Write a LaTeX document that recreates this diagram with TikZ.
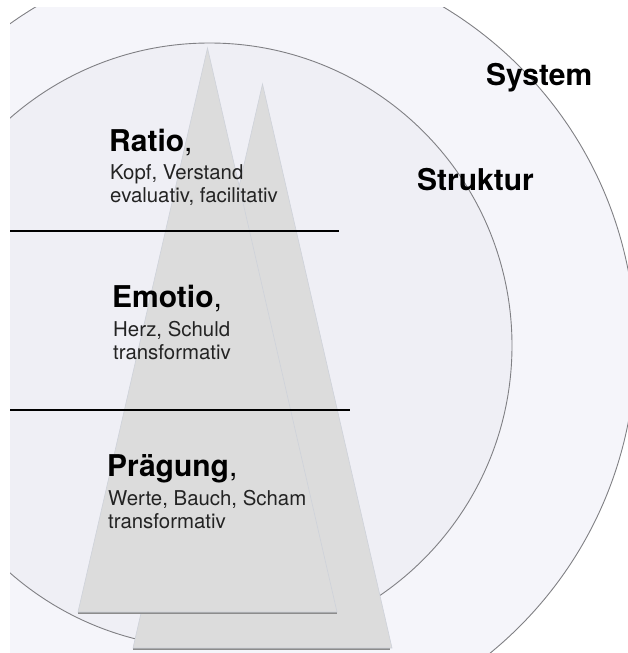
\documentclass[tikz,border=0pt]{standalone}
\usepackage{fontspec}
\setmainfont{TeX Gyre Heros}
\usepackage{tikz}
\usepackage{xcolor}
\usetikzlibrary{positioning}
\definecolor{ringout}{RGB}{245,245,250}
\definecolor{ringin}{RGB}{239,239,245}
\definecolor{ringline}{RGB}{128,128,132}
\definecolor{pyrfill}{RGB}{220,220,220}
\definecolor{pyredge}{RGB}{206,210,218}
\definecolor{subtext}{RGB}{35,35,35}
\tikzset{%
	ring/.style     = {draw=ringline, line width=0.9pt},
	pyramid/.style  = {fill=pyrfill, draw=pyredge, line width=0.6pt},
	pyrshadow/.style= {draw=black!45, line width=1.2pt},
	divider/.style  = {draw=black, line width=1.1pt},
	head/.style     = {anchor=base west, inner sep=0pt, font=\fontsize{30}{32}\selectfont},
	sub/.style      = {anchor=base west, inner sep=0pt, text=subtext, font=\fontsize{20.4}{23}\selectfont},
}

\begin{document}
\begin{tikzpicture}[x=1pt,y=-1pt]
	\useasboundingbox (0,0) rectangle (628,653);
	
	% circles, cut to the frame
	\begin{scope}
	\clip (10,7) rectangle (628,653);
	\fill[ringout] (239.5,346.5) circle (396);
	\draw[ring] (239.5,346.5) circle (396);
	\fill[ringin] (209.5,345.5) circle (302.5);
	\draw[ring] (209.5,345.5) circle (302.5);
	\end{scope}
	
	% two pyramids, back one first
	\draw[pyrshadow] (133,649) -- (390,649);
	\draw[pyramid] (262.5,84) -- (392,648) -- (133,648) -- cycle;
	\draw[pyrshadow] (78,613) -- (337,613);
	\draw[pyramid] (207.5,48) -- (337,612) -- (78,612) -- cycle;
	
	\coordinate (l1a) at (10,231);
	\coordinate (l1b) at (339,231);
	\coordinate (l2a) at (10,410);
	\coordinate (l2b) at (350,410);
	\draw[divider] (l1a) -- (l1b);
	\draw[divider] (l2a) -- (l2b);
	
	\node [head] (ratio) at (109,151) {\textbf{Ratio},};
	\node [sub] (ratio1) at (110,179) {Kopf, Verstand};
	\node [sub] (ratio2) at (110,202) {evaluativ, facilitativ};
	
	\node [head] (emotio) at (112,307) {\textbf{Emotio},};
	\node [sub] (emotio1) at (113,336) {Herz, Schuld};
	\node [sub] (emotio2) at (113,359) {transformativ};
	
	\node [head] (praegung) at (107,476) {\textbf{Prägung},};
	\node [sub] (praegung1) at (108,505) {Werte, Bauch, Scham};
	\node [sub] (praegung2) at (108,528) {transformativ};
	
	\node [head] (system) at (486,85) {\textbf{System}};
	\node [head] (struktur) at (417,190) {\textbf{Struktur}};
\end{tikzpicture}
\end{document}
